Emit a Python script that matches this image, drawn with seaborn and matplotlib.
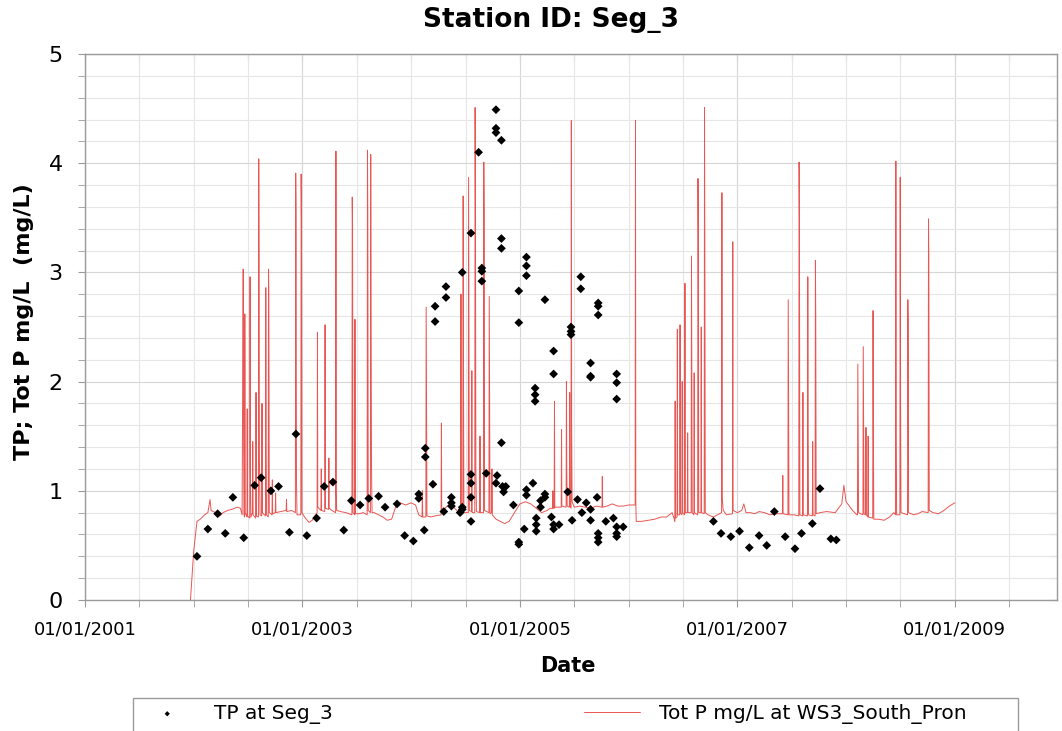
import numpy as np
import pandas as pd
import matplotlib
matplotlib.use("Agg")
import matplotlib.pyplot as plt
from matplotlib.patches import Rectangle
from matplotlib.ticker import MultipleLocator, FixedLocator, FuncFormatter
import seaborn as sns

# Observed TP at Seg_3 (decimal year, mg/L)
tp_year = [2002.03, 2002.13, 2002.22, 2002.29, 2002.36, 2002.46, 2002.56, 2002.62, 2002.71, 2002.78,
           2002.88, 2002.94, 2003.04, 2003.13, 2003.20, 2003.28, 2003.38, 2003.45, 2003.53, 2003.61,
           2003.70, 2003.76, 2003.87, 2003.94, 2004.02, 2004.07, 2004.07, 2004.12, 2004.13, 2004.13,
           2004.20, 2004.22, 2004.22, 2004.30, 2004.32, 2004.32, 2004.37, 2004.37, 2004.37, 2004.45,
           2004.47, 2004.47, 2004.47, 2004.55, 2004.55, 2004.55, 2004.55, 2004.55, 2004.62, 2004.65,
           2004.65, 2004.65, 2004.69, 2004.78, 2004.78, 2004.78, 2004.83, 2004.83, 2004.83, 2004.83,
           2004.79, 2004.78, 2004.84, 2004.85, 2004.87, 2004.94, 2004.99, 2004.99, 2004.99, 2004.99,
           2005.04, 2005.06, 2005.06, 2005.06, 2005.06, 2005.06, 2005.12, 2005.14, 2005.14, 2005.14,
           2005.15, 2005.15, 2005.15, 2005.19, 2005.19, 2005.23, 2005.23, 2005.23, 2005.29, 2005.31,
           2005.31, 2005.31, 2005.31, 2005.36, 2005.44, 2005.47, 2005.47, 2005.47, 2005.48, 2005.53,
           2005.56, 2005.56, 2005.57, 2005.61, 2005.65, 2005.65, 2005.65, 2005.65, 2005.65, 2005.71,
           2005.72, 2005.72, 2005.72, 2005.72, 2005.72, 2005.72, 2005.79, 2005.86, 2005.89, 2005.89,
           2005.89, 2005.89, 2005.89, 2005.89, 2005.95, 2006.78, 2006.85, 2006.94, 2007.02, 2007.11,
           2007.20, 2007.27, 2007.34, 2007.44, 2007.53, 2007.59, 2007.69, 2007.76, 2007.86, 2007.91]
tp_val = [0.40, 0.65, 0.79, 0.61, 0.94, 0.57, 1.05, 1.12, 1.00, 1.04,
          0.62, 1.52, 0.59, 0.75, 1.04, 1.08, 0.64, 0.91, 0.87, 0.93,
          0.95, 0.85, 0.88, 0.59, 0.54, 0.97, 0.93, 0.64, 1.39, 1.31,
          1.06, 2.69, 2.55, 0.81, 2.87, 2.77, 0.94, 0.89, 0.86, 0.80,
          0.85, 0.83, 3.00, 0.72, 3.36, 1.15, 1.07, 0.94, 4.10, 3.04,
          3.01, 2.92, 1.16, 4.49, 4.32, 4.28, 4.21, 3.31, 3.22, 1.44,
          1.14, 1.07, 1.04, 0.99, 1.04, 0.87, 2.83, 2.54, 0.53, 0.51,
          0.65, 3.14, 3.06, 2.97, 1.01, 0.96, 1.07, 1.94, 1.88, 1.82,
          0.75, 0.69, 0.63, 0.91, 0.85, 2.75, 0.97, 0.94, 0.76, 0.69,
          0.65, 2.28, 2.07, 0.69, 0.99, 2.50, 2.46, 2.43, 0.73, 0.92,
          2.96, 2.85, 0.80, 0.89, 2.17, 2.05, 2.04, 0.83, 0.73, 0.94,
          2.72, 2.69, 2.61, 0.61, 0.57, 0.53, 0.72, 0.75, 2.07, 1.99,
          1.84, 0.67, 0.61, 0.58, 0.67, 0.72, 0.61, 0.58, 0.63, 0.48,
          0.59, 0.50, 0.81, 0.58, 0.47, 0.61, 0.70, 1.02, 0.56, 0.55]

# Modelled Tot P at WS3_South_Pron (decimal year, mg/L)
ws3_year = [2001.97, 2002.00, 2002.03, 2002.06, 2002.10, 2002.13, 2002.15, 2002.16, 2002.20, 2002.24,
            2002.27, 2002.31, 2002.35, 2002.40, 2002.43, 2002.445, 2002.455, 2002.458, 2002.462, 2002.468,
            2002.47, 2002.473, 2002.49, 2002.492, 2002.495, 2002.515, 2002.518, 2002.521, 2002.526, 2002.54,
            2002.543, 2002.546, 2002.57, 2002.573, 2002.576, 2002.595, 2002.598, 2002.601, 2002.604, 2002.61,
            2002.625, 2002.628, 2002.631, 2002.66, 2002.663, 2002.666, 2002.67, 2002.685, 2002.688, 2002.691,
            2002.695, 2002.72, 2002.723, 2002.726, 2002.75, 2002.753, 2002.756, 2002.80, 2002.85, 2002.853,
            2002.856, 2002.90, 2002.935, 2002.938, 2002.941, 2002.945, 2002.95, 2002.985, 2002.988, 2002.991,
            2002.995, 2003.02, 2003.06, 2003.09, 2003.12, 2003.135, 2003.138, 2003.141, 2003.17, 2003.173,
            2003.176, 2003.205, 2003.208, 2003.211, 2003.24, 2003.243, 2003.246, 2003.27, 2003.305, 2003.308,
            2003.311, 2003.315, 2003.35, 2003.40, 2003.455, 2003.458, 2003.461, 2003.465, 2003.48, 2003.483,
            2003.487, 2003.52, 2003.56, 2003.595, 2003.598, 2003.601, 2003.605, 2003.625, 2003.628, 2003.631,
            2003.635, 2003.64, 2003.66, 2003.70, 2003.74, 2003.78, 2003.82, 2003.86, 2003.90, 2003.95,
            2004.00, 2004.04, 2004.07, 2004.10, 2004.103, 2004.106, 2004.135, 2004.138, 2004.141, 2004.145,
            2004.18, 2004.22, 2004.275, 2004.278, 2004.281, 2004.32, 2004.36, 2004.40, 2004.44, 2004.455,
            2004.458, 2004.461, 2004.475, 2004.478, 2004.481, 2004.485, 2004.525, 2004.528, 2004.531, 2004.535,
            2004.555, 2004.558, 2004.561, 2004.585, 2004.588, 2004.591, 2004.595, 2004.60, 2004.63, 2004.633,
            2004.636, 2004.665, 2004.668, 2004.671, 2004.675, 2004.715, 2004.718, 2004.721, 2004.725, 2004.74,
            2004.743, 2004.746, 2004.78, 2004.82, 2004.86, 2004.90, 2004.95, 2005.00, 2005.05, 2005.10,
            2005.15, 2005.20, 2005.25, 2005.28, 2005.30, 2005.303, 2005.306, 2005.315, 2005.318, 2005.321,
            2005.38, 2005.383, 2005.386, 2005.425, 2005.428, 2005.431, 2005.435, 2005.455, 2005.458, 2005.461,
            2005.47, 2005.473, 2005.476, 2005.48, 2005.50, 2005.55, 2005.60, 2005.65, 2005.70, 2005.755,
            2005.758, 2005.761, 2005.80, 2005.85, 2005.90, 2005.95, 2006.00, 2006.06, 2006.063, 2006.066,
            2006.07, 2006.12, 2006.18, 2006.24, 2006.30, 2006.35, 2006.40, 2006.42, 2006.425, 2006.428,
            2006.431, 2006.445, 2006.448, 2006.451, 2006.47, 2006.473, 2006.476, 2006.49, 2006.493, 2006.496,
            2006.515, 2006.518, 2006.521, 2006.54, 2006.543, 2006.546, 2006.575, 2006.578, 2006.581, 2006.585,
            2006.60, 2006.603, 2006.606, 2006.635, 2006.638, 2006.641, 2006.645, 2006.665, 2006.668, 2006.671,
            2006.695, 2006.698, 2006.701, 2006.705, 2006.73, 2006.78, 2006.855, 2006.858, 2006.861, 2006.87,
            2006.90, 2006.955, 2006.958, 2006.961, 2007.00, 2007.04, 2007.06, 2007.08, 2007.12, 2007.16,
            2007.20, 2007.25, 2007.30, 2007.35, 2007.415, 2007.418, 2007.421, 2007.465, 2007.468, 2007.471,
            2007.475, 2007.52, 2007.565, 2007.568, 2007.571, 2007.575, 2007.60, 2007.603, 2007.606, 2007.645,
            2007.648, 2007.651, 2007.655, 2007.69, 2007.693, 2007.696, 2007.715, 2007.718, 2007.721, 2007.725,
            2007.76, 2007.82, 2007.90, 2007.96, 2007.98, 2008.00, 2008.03, 2008.06, 2008.10, 2008.105,
            2008.108, 2008.111, 2008.115, 2008.155, 2008.158, 2008.161, 2008.165, 2008.18, 2008.183, 2008.186,
            2008.20, 2008.203, 2008.206, 2008.245, 2008.248, 2008.251, 2008.255, 2008.30, 2008.35, 2008.40,
            2008.44, 2008.455, 2008.458, 2008.461, 2008.465, 2008.495, 2008.498, 2008.501, 2008.505, 2008.565,
            2008.568, 2008.571, 2008.575, 2008.62, 2008.66, 2008.70, 2008.755, 2008.758, 2008.761, 2008.765,
            2008.80, 2008.85, 2008.90, 2008.95, 2009.00]
ws3_val = [0.00, 0.45, 0.72, 0.74, 0.78, 0.80, 0.92, 0.82, 0.80, 0.77,
           0.80, 0.82, 0.83, 0.85, 0.84, 0.78, 3.03, 1.70, 0.78, 0.76,
           2.62, 0.80, 0.76, 1.75, 0.77, 0.75, 2.96, 1.20, 0.76, 0.80,
           1.45, 0.78, 0.75, 1.90, 0.77, 0.76, 4.04, 3.08, 1.30, 0.78,
           0.77, 1.80, 0.80, 0.77, 2.86, 1.40, 0.78, 0.76, 3.03, 2.80,
           0.80, 0.78, 1.10, 0.79, 0.80, 0.98, 0.80, 0.81, 0.82, 0.92,
           0.81, 0.82, 0.80, 3.91, 3.55, 1.10, 0.78, 0.78, 3.90, 3.50,
           0.80, 0.76, 0.71, 0.73, 0.78, 0.80, 2.45, 0.85, 0.82, 1.20,
           0.82, 0.81, 2.52, 0.84, 0.83, 1.30, 0.84, 0.82, 0.80, 4.11,
           1.00, 0.82, 0.81, 0.80, 0.78, 3.69, 3.40, 0.80, 0.78, 2.57,
           0.79, 0.79, 0.80, 0.78, 4.12, 3.55, 0.82, 0.80, 4.08, 2.60,
           1.24, 0.80, 0.80, 0.78, 0.76, 0.73, 0.74, 0.86, 0.89, 0.87,
           0.89, 0.87, 0.78, 0.76, 1.00, 0.76, 0.76, 2.68, 1.80, 0.77,
           0.76, 0.77, 0.78, 1.62, 0.80, 0.85, 0.88, 0.84, 0.80, 0.80,
           2.80, 0.80, 0.79, 3.70, 2.10, 0.80, 0.80, 3.87, 2.70, 0.82,
           0.81, 2.10, 0.80, 0.80, 4.51, 3.65, 1.20, 0.81, 0.80, 1.50,
           0.80, 0.80, 4.01, 3.55, 0.82, 0.80, 2.78, 1.90, 0.79, 0.80,
           1.20, 0.78, 0.74, 0.72, 0.70, 0.72, 0.80, 0.88, 0.90, 0.88,
           0.84, 0.80, 0.82, 0.84, 0.84, 1.00, 0.84, 0.84, 1.82, 0.85,
           0.85, 1.56, 0.86, 0.85, 2.00, 1.20, 0.86, 0.85, 1.90, 0.86,
           0.84, 4.39, 1.60, 0.90, 0.85, 0.86, 0.85, 0.84, 0.86, 0.85,
           1.13, 0.85, 0.86, 0.88, 0.86, 0.86, 0.87, 0.87, 4.39, 0.90,
           0.72, 0.72, 0.73, 0.74, 0.76, 0.76, 0.80, 0.74, 0.72, 1.82,
           0.75, 0.76, 2.48, 0.78, 0.78, 2.52, 0.80, 0.78, 2.00, 0.80,
           0.78, 2.90, 0.80, 0.80, 1.53, 0.80, 0.80, 3.15, 2.05, 0.80,
           0.78, 2.08, 0.80, 0.78, 3.86, 3.27, 0.80, 0.80, 2.50, 0.80,
           0.79, 4.51, 3.20, 0.80, 0.78, 0.76, 0.80, 3.73, 0.93, 0.82,
           0.78, 0.79, 3.28, 0.82, 0.80, 0.82, 0.88, 0.80, 0.80, 0.79,
           0.81, 0.80, 0.78, 0.79, 0.79, 1.14, 0.79, 0.78, 2.75, 1.90,
           0.78, 0.78, 0.77, 4.01, 3.50, 0.78, 0.77, 1.90, 0.78, 0.77,
           2.96, 1.50, 0.78, 0.77, 1.45, 0.78, 0.77, 3.11, 2.60, 0.79,
           0.80, 0.81, 0.80, 0.88, 1.05, 0.90, 0.86, 0.82, 0.78, 0.78,
           2.16, 1.50, 0.80, 0.78, 2.32, 1.60, 0.79, 0.78, 1.58, 0.78,
           0.76, 1.50, 0.76, 0.75, 2.65, 1.60, 0.74, 0.74, 0.73, 0.76,
           0.80, 0.78, 4.02, 1.50, 0.78, 0.78, 3.87, 1.95, 0.80, 0.78,
           2.75, 2.55, 0.80, 0.78, 0.79, 0.81, 0.80, 3.49, 3.15, 0.82,
           0.80, 0.79, 0.82, 0.86, 0.89]

x_label_years = [2001, 2003, 2005, 2007, 2009]

tp_df = pd.DataFrame({"year": tp_year, "TP": tp_val})
ws3_df = pd.DataFrame({"year": ws3_year, "TotP": ws3_val})

sns.set_style("white")
plt.rcParams["font.family"] = ["DejaVu Sans"]
plt.rcParams["text.color"] = "black"
plt.rcParams["xtick.color"] = "black"
plt.rcParams["ytick.color"] = "black"

fig = plt.figure(figsize=(10.62, 7.31), dpi=100)
ax = fig.add_axes([85 / 1062, 1 - 600 / 731, (1057 - 85) / 1062, (600 - 54) / 731])

sns.lineplot(data=ws3_df, x="year", y="TotP", ax=ax, color="#e53935", linewidth=0.7,
             alpha=0.85, estimator=None, sort=False, label="Tot P mg/L at WS3_South_Pron")
sns.scatterplot(data=tp_df, x="year", y="TP", ax=ax, marker="D", color="black", s=20,
                edgecolor="none", zorder=3, label="TP at Seg_3")

ax.set_xlim(2001, 2009.94)
ax.set_ylim(0, 5)

ax.xaxis.set_major_locator(FixedLocator(x_label_years))
ax.xaxis.set_minor_locator(MultipleLocator(0.5))
ax.xaxis.set_major_formatter(FuncFormatter(lambda v, p: f"01/01/{int(round(v))}"))
ax.yaxis.set_major_locator(MultipleLocator(1))
ax.yaxis.set_minor_locator(MultipleLocator(0.2))

ax.grid(which="major", color="#d6d6d6", linewidth=0.8)
ax.grid(which="minor", color="#e6e6e6", linewidth=0.8)
ax.set_axisbelow(True)

for s in ax.spines.values():
    s.set_color("#9a9a9a")
    s.set_linewidth(1.0)

ax.tick_params(axis="x", which="both", direction="out", length=5, color="#9a9a9a",
               labelsize=13, pad=10, bottom=True)
ax.tick_params(axis="y", which="both", direction="out", length=5, color="#9a9a9a",
               labelsize=16, pad=11, left=True)

# inward ticks on top and right spines
top = ax.secondary_xaxis("top")
top.xaxis.set_major_locator(MultipleLocator(0.5))
top.tick_params(direction="in", length=5, color="#9a9a9a", labeltop=False)
top.spines["top"].set_visible(False)
right = ax.secondary_yaxis("right")
right.yaxis.set_major_locator(MultipleLocator(0.2))
right.tick_params(direction="in", length=5, color="#9a9a9a", labelright=False)
right.spines["right"].set_visible(False)

ax.set_xlabel("")
ax.set_ylabel("")
fig.text(551 / 1062, 1 - 20 / 731, "Station ID: Seg_3", ha="center", va="center",
         fontsize=19, fontweight="bold")
fig.text(568 / 1062, 1 - 666 / 731, "Date", ha="center", va="center",
         fontsize=15, fontweight="bold")
fig.text(24 / 1062, 1 - 322 / 731, "TP; Tot P mg/L  (mg/L)", ha="center", va="center",
         rotation=90, fontsize=16, fontweight="bold")

# legend below the plot, boxed across the width as in the original
handles, labels = ax.get_legend_handles_labels()
order = [labels.index("TP at Seg_3"), labels.index("Tot P mg/L at WS3_South_Pron")]
ax.get_legend().remove()
fig.legend([handles[i] for i in order], [labels[i] for i in order],
           loc="upper left", bbox_to_anchor=(133 / 1062, 1 - 698 / 731), ncol=2,
           frameon=False, fontsize=14.5, handlelength=2.8, handletextpad=0.9,
           columnspacing=12.5, borderaxespad=0, borderpad=0.3, markerscale=0.6)
fig.patches.append(Rectangle((133 / 1062, -0.02), (1018 - 133) / 1062, 0.02 + 33 / 731,
                             transform=fig.transFigure, fill=False,
                             edgecolor="#9a9a9a", linewidth=1.0))

fig.savefig("out.png", dpi=100)
